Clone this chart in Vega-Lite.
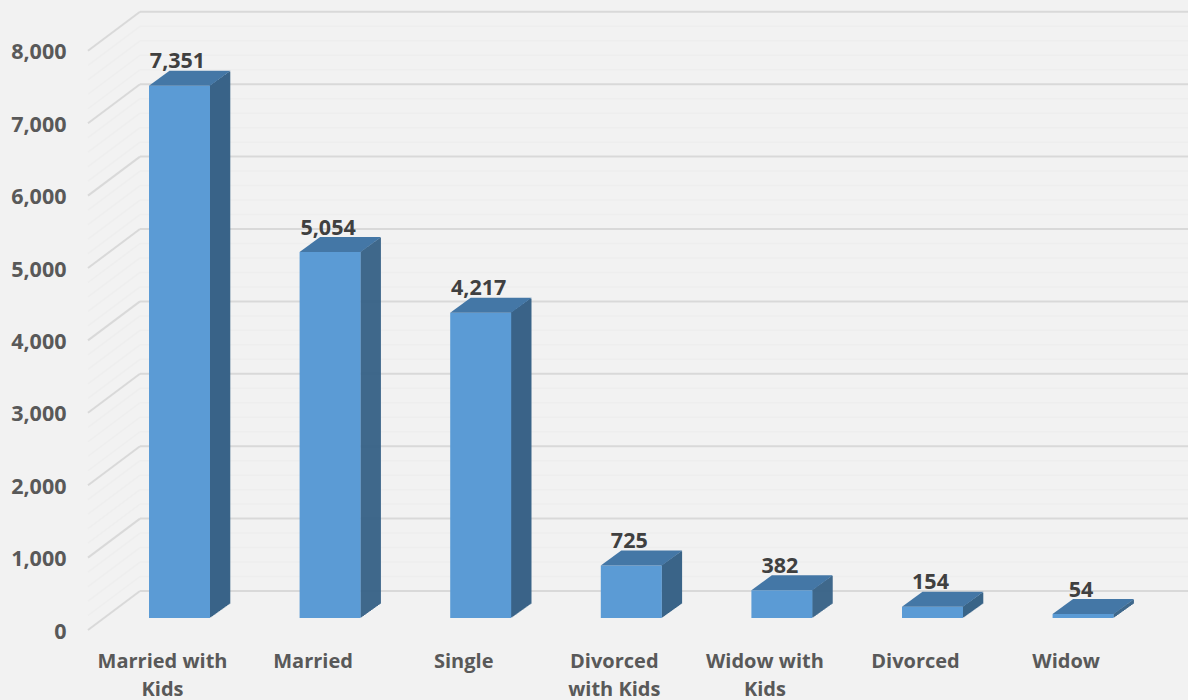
{"$schema":"https://vega.github.io/schema/vega-lite/v6.json","width":1100,"height":630,"autosize":{"type":"none"},"padding":{"left":88,"top":0,"right":0,"bottom":70},"background":"#f2f2f2","config":{"view":{"stroke":null},"font":"Open Sans","numberFormat":",","axisY":{"domain":false,"ticks":false,"grid":false,"labelPadding":22,"labelOffset":2,"labelFont":"Open Sans","labelFontSize":21.5,"labelFontWeight":700,"labelColor":"#595959"}},"datasets":{"bars":[{"status":"Married with Kids","count":7351},{"status":"Married","count":5054},{"status":"Single","count":4217},{"status":"Divorced with Kids","count":725},{"status":"Widow with Kids","count":382},{"status":"Divorced","count":154},{"status":"Widow","count":54}],"major":[{"tick":0},{"tick":1000},{"tick":2000},{"tick":3000},{"tick":4000},{"tick":5000},{"tick":6000},{"tick":7000},{"tick":8000}],"minor":[{"tick":200},{"tick":400},{"tick":600},{"tick":800},{"tick":1200},{"tick":1400},{"tick":1600},{"tick":1800},{"tick":2200},{"tick":2400},{"tick":2600},{"tick":2800},{"tick":3200},{"tick":3400},{"tick":3600},{"tick":3800},{"tick":4200},{"tick":4400},{"tick":4600},{"tick":4800},{"tick":5200},{"tick":5400},{"tick":5600},{"tick":5800},{"tick":6200},{"tick":6400},{"tick":6600},{"tick":6800},{"tick":7200},{"tick":7400},{"tick":7600},{"tick":7800}]},"layer":[
{"data":{"name":"minor"},"mark":{"type":"rule","color":"#eeeeee","strokeWidth":1.5,"yOffset":-39},"encoding":{"x":{"value":52},"x2":{"value":1100},"y":{"field":"tick","type":"quantitative","title":null,"axis":{"values":[0,1000,2000,3000,4000,5000,6000,7000,8000],"labelExpr":"format(datum.value, ',')"}}}},
{"data":{"name":"minor"},"mark":{"type":"rule","color":"#eeeeee","strokeWidth":1.5,"y2Offset":-39},"encoding":{"x":{"value":0},"x2":{"value":52},"y":{"field":"tick","type":"quantitative","title":null,"axis":{"values":[0,1000,2000,3000,4000,5000,6000,7000,8000],"labelExpr":"format(datum.value, ',')"}},"y2":{"field":"tick"}}},
{"data":{"name":"major"},"mark":{"type":"rule","color":"#d9d9d9","strokeWidth":2,"yOffset":-39},"encoding":{"x":{"value":52},"x2":{"value":1100},"y":{"field":"tick","type":"quantitative","title":null,"axis":{"values":[0,1000,2000,3000,4000,5000,6000,7000,8000],"labelExpr":"format(datum.value, ',')"}}}},
{"data":{"name":"major"},"mark":{"type":"rule","color":"#d9d9d9","strokeWidth":2,"y2Offset":-39},"encoding":{"x":{"value":0},"x2":{"value":52},"y":{"field":"tick","type":"quantitative","title":null,"axis":{"values":[0,1000,2000,3000,4000,5000,6000,7000,8000],"labelExpr":"format(datum.value, ',')"}},"y2":{"field":"tick"}}},
{"data":{"name":"bars"},"encoding":{"x":{"field":"status","type":"nominal","sort":null,"title":null,"scale":{"type":"band","range":[16.2,1070.4],"paddingInner":0,"paddingOuter":0},"axis":{"domain":false,"ticks":false,"labelAngle":0,"labelOffset":-17,"labelPadding":31,"labelFont":"Open Sans","labelFontSize":20,"labelFontWeight":700,"labelColor":"#595959","labelLineHeight":28,"labelLimit":0,"labelBaseline":"middle","labelExpr":"{'Married with Kids':['Married with','Kids'],'Divorced with Kids':['Divorced','with Kids'],'Widow with Kids':['Widow with','Kids']}[datum.label] || datum.label"}},"y":{"field":"count","type":"quantitative","title":null,"scale":{"domain":[0,8702],"nice":false},"axis":{"values":[0,1000,2000,3000,4000,5000,6000,7000,8000],"labelExpr":"format(datum.value, ',')"}},"y2":{"datum":0}},"layer":[
{"mark":{"type":"rule","color":"#3a6488","strokeWidth":1.6,"xOffset":31,"yOffset":-12.7,"y2Offset":-12.7}},
{"mark":{"type":"rule","color":"#3a6488","strokeWidth":1.6,"xOffset":32,"yOffset":-13.4,"y2Offset":-13.4}},
{"mark":{"type":"rule","color":"#3a6488","strokeWidth":1.6,"xOffset":33,"yOffset":-14.1,"y2Offset":-14.1}},
{"mark":{"type":"rule","color":"#3a6488","strokeWidth":1.6,"xOffset":34,"yOffset":-14.9,"y2Offset":-14.9}},
{"mark":{"type":"rule","color":"#3a6488","strokeWidth":1.6,"xOffset":35,"yOffset":-15.6,"y2Offset":-15.6}},
{"mark":{"type":"rule","color":"#3a6488","strokeWidth":1.6,"xOffset":36,"yOffset":-16.3,"y2Offset":-16.3}},
{"mark":{"type":"rule","color":"#3a6488","strokeWidth":1.6,"xOffset":37,"yOffset":-17,"y2Offset":-17}},
{"mark":{"type":"rule","color":"#3a6488","strokeWidth":1.6,"xOffset":38,"yOffset":-17.7,"y2Offset":-17.7}},
{"mark":{"type":"rule","color":"#3a6488","strokeWidth":1.6,"xOffset":39,"yOffset":-18.4,"y2Offset":-18.4}},
{"mark":{"type":"rule","color":"#3a6488","strokeWidth":1.6,"xOffset":40,"yOffset":-19.1,"y2Offset":-19.1}},
{"mark":{"type":"rule","color":"#3a6488","strokeWidth":1.6,"xOffset":41,"yOffset":-19.9,"y2Offset":-19.9}},
{"mark":{"type":"rule","color":"#3a6488","strokeWidth":1.6,"xOffset":42,"yOffset":-20.6,"y2Offset":-20.6}},
{"mark":{"type":"rule","color":"#3a6488","strokeWidth":1.6,"xOffset":43,"yOffset":-21.3,"y2Offset":-21.3}},
{"mark":{"type":"rule","color":"#3a6488","strokeWidth":1.6,"xOffset":44,"yOffset":-22,"y2Offset":-22}},
{"mark":{"type":"rule","color":"#3a6488","strokeWidth":1.6,"xOffset":45,"yOffset":-22.7,"y2Offset":-22.7}},
{"mark":{"type":"rule","color":"#3a6488","strokeWidth":1.6,"xOffset":46,"yOffset":-23.4,"y2Offset":-23.4}},
{"mark":{"type":"rule","color":"#3a6488","strokeWidth":1.6,"xOffset":47,"yOffset":-24.1,"y2Offset":-24.1}},
{"mark":{"type":"rule","color":"#3a6488","strokeWidth":1.6,"xOffset":48,"yOffset":-24.9,"y2Offset":-24.9}},
{"mark":{"type":"rule","color":"#3a6488","strokeWidth":1.6,"xOffset":49,"yOffset":-25.6,"y2Offset":-25.6}},
{"mark":{"type":"rule","color":"#3a6488","strokeWidth":1.6,"xOffset":50,"yOffset":-26.3,"y2Offset":-26.3}},
{"mark":{"type":"bar","width":61,"color":"#5b9bd5","yOffset":-12,"y2Offset":-12}},
{"mark":{"type":"point","filled":true,"size":4,"opacity":1,"color":"#4477a6","shape":"M-30.5,0L30.5,0L51,-15L-10,-15Z","yOffset":-12},"encoding":{"y2":null}},
{"mark":{"type":"text","font":"Open Sans","fontSize":21.5,"fontWeight":700,"color":"#404040","baseline":"middle","xOffset":-2,"yOffset":-35.5},"encoding":{"y2":null,"text":{"field":"count","type":"quantitative","format":","}}}
]}
]}
